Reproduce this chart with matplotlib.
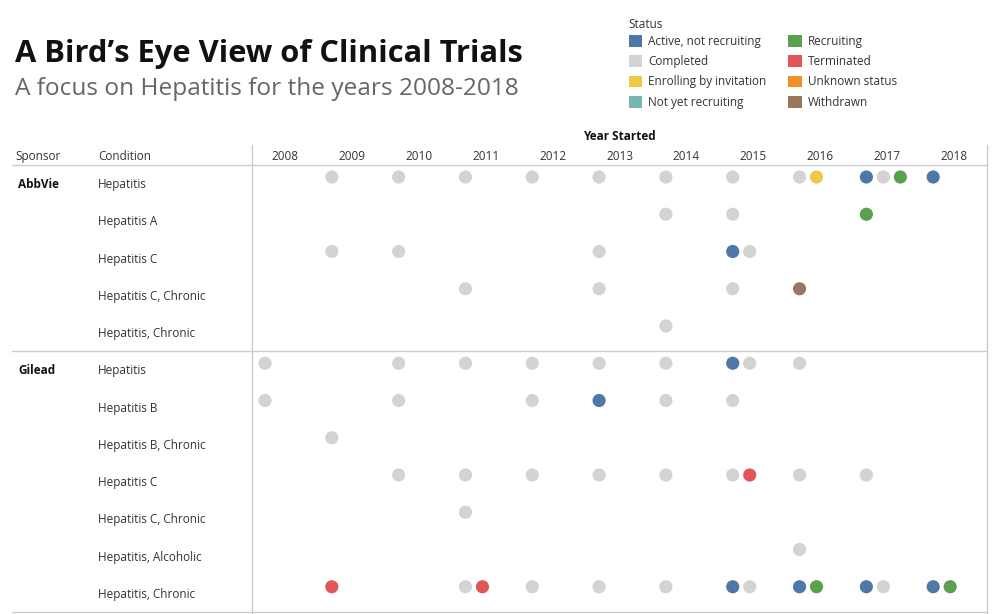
import matplotlib
matplotlib.use("Agg")
import matplotlib.pyplot as plt
from matplotlib.patches import Patch

plt.rcParams['font.family'] = ['Open Sans', 'DejaVu Sans']

# data
years = list(range(2008, 2019))
sponsors = ["AbbVie", "Gilead"]
conditions = {
    "AbbVie": ["Hepatitis", "Hepatitis A", "Hepatitis C", "Hepatitis C, Chronic", "Hepatitis, Chronic"],
    "Gilead": ["Hepatitis", "Hepatitis B", "Hepatitis B, Chronic", "Hepatitis C",
               "Hepatitis C, Chronic", "Hepatitis, Alcoholic", "Hepatitis, Chronic"],
}
status_names = ["Active, not recruiting", "Completed", "Enrolling by invitation", "Not yet recruiting",
                "Recruiting", "Terminated", "Unknown status", "Withdrawn"]
status_colors = ["#4e79a7", "#d3d3d3", "#edc948", "#76b7b2", "#59a14f", "#e15759", "#f28e2b", "#9c755f"]

# trials per (sponsor, condition): year -> statuses in order
abbvie_trials = [
    {2009: ["Completed"], 2010: ["Completed"], 2011: ["Completed"], 2012: ["Completed"], 2013: ["Completed"],
     2014: ["Completed"], 2015: ["Completed"], 2016: ["Completed", "Enrolling by invitation"],
     2017: ["Active, not recruiting", "Completed", "Recruiting"], 2018: ["Active, not recruiting"]},
    {2014: ["Completed"], 2015: ["Completed"], 2017: ["Recruiting"]},
    {2009: ["Completed"], 2010: ["Completed"], 2013: ["Completed"], 2015: ["Active, not recruiting", "Completed"]},
    {2011: ["Completed"], 2013: ["Completed"], 2015: ["Completed"], 2016: ["Withdrawn"]},
    {2014: ["Completed"]},
]
gilead_trials = [
    {2008: ["Completed"], 2010: ["Completed"], 2011: ["Completed"], 2012: ["Completed"], 2013: ["Completed"],
     2014: ["Completed"], 2015: ["Active, not recruiting", "Completed"], 2016: ["Completed"]},
    {2008: ["Completed"], 2010: ["Completed"], 2012: ["Completed"], 2013: ["Active, not recruiting"],
     2014: ["Completed"], 2015: ["Completed"]},
    {2009: ["Completed"]},
    {2010: ["Completed"], 2011: ["Completed"], 2012: ["Completed"], 2013: ["Completed"], 2014: ["Completed"],
     2015: ["Completed", "Terminated"], 2016: ["Completed"], 2017: ["Completed"]},
    {2011: ["Completed"]},
    {2016: ["Completed"]},
    {2009: ["Terminated"], 2011: ["Completed", "Terminated"], 2012: ["Completed"], 2013: ["Completed"],
     2014: ["Completed"], 2015: ["Active, not recruiting", "Completed"],
     2016: ["Active, not recruiting", "Recruiting"], 2017: ["Active, not recruiting", "Completed"],
     2018: ["Active, not recruiting", "Recruiting"]},
]
trials = {"AbbVie": abbvie_trials, "Gilead": gilead_trials}

color_of = dict(zip(status_names, status_colors))
W, H = 999, 614
fig = plt.figure(figsize=(W / 100, H / 100), dpi=100)

# background axes in pixel units for the table chrome
bg = fig.add_axes([0, 0, 1, 1])
bg.set_xlim(0, W)
bg.set_ylim(H, 0)
bg.axis("off")

# dot grid axes
top, bottom, left, right = 165, 612, 252, 987
ax = fig.add_axes([left / W, 1 - bottom / H, (right - left) / W, (bottom - top) / H])
n_rows = sum(len(conditions[s]) for s in sponsors)
ax.set_xlim(years[0], years[-1] + 1)
ax.set_ylim(n_rows, 0)
ax.axis("off")
row_px = (bottom - top) / n_rows
col_px = (right - left) / len(years)

txt = "#333333"
line_c = "#cccccc"

row = 0
for s in sponsors:
    ax.text(years[0] - (left - 18) / col_px, row + 0.5 + 4 / row_px, s, ha="left", va="baseline",
            fontsize=8.5, fontweight="bold", color="#111111", clip_on=False)
    for c, yrs in zip(conditions[s], trials[s]):
        ax.text(years[0] - (left - 98) / col_px, row + 0.5 + 4.5 / row_px, c, ha="left", va="baseline",
                fontsize=8.5, color=txt, clip_on=False)
        for y, sts in yrs.items():
            for k, st in enumerate(sts):
                ax.scatter(y + 13 / col_px + 17 / col_px * k, row + 12 / row_px, s=90,
                           color=color_of[st], edgecolors="none", zorder=3)
        row += 1
    if s != sponsors[-1]:
        bg.plot([12, right], [top + row * row_px] * 2, color=line_c, lw=1)

# year headers
for y in years:
    ax.text(y + 0.5, -5 / row_px, str(y), ha="center", va="baseline", fontsize=8.5, color=txt, clip_on=False)
ax.text((years[0] + years[-1] + 1) / 2, -25 / row_px, "Year Started", ha="center", va="baseline",
        fontsize=8.5, fontweight="bold", color="#111111", clip_on=False)

bg.text(15, 160, "Sponsor", ha="left", va="baseline", fontsize=8.5, color=txt)
bg.text(98, 160, "Condition", ha="left", va="baseline", fontsize=8.5, color=txt)

# table lines
bg.plot([12, right], [top, top], color=line_c, lw=1)
bg.plot([12, right], [bottom, bottom], color=line_c, lw=1)
bg.plot([left, left], [145, H], color=line_c, lw=1)
bg.plot([right, right], [145, H], color=line_c, lw=1)

# titles
bg.text(15, 62, "A Bird\u2019s Eye View of Clinical Trials", ha="left", va="baseline",
        fontsize=22.2, fontweight="bold", color="#111111")
bg.text(15, 95, "A focus on Hepatitis for the years 2008-2018", ha="left", va="baseline",
        fontsize=17.6, color="#666666")

# legend
handles = [Patch(facecolor=c, edgecolor="none", label=n) for n, c in zip(status_names, status_colors)]
leg = fig.legend(handles=handles, ncol=2, title="Status", loc="upper left",
                 bbox_to_anchor=(618 / W, 1 - 7 / H), frameon=False, fontsize=8.5,
                 title_fontsize=8.5, handlelength=1.15, handleheight=1.15, handletextpad=0.5,
                 columnspacing=1.85, labelspacing=0.62, alignment="left")
leg._legend_box.sep = 3
for t in leg.get_texts():
    t.set_color(txt)
leg.get_title().set_color(txt)

fig.savefig("out.png", dpi=100)
